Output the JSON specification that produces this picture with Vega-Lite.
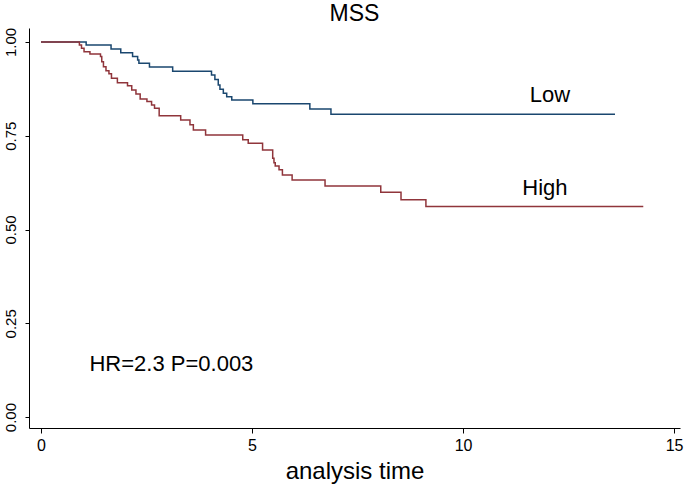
{
  "$schema": "https://vega.github.io/schema/vega-lite/v6.json",
  "autosize": {"type": "none"},
  "width": 651,
  "height": 400,
  "padding": {"left": 29, "top": 28, "right": 5, "bottom": 59},
  "background": "white",
  "config": {
    "font": "Liberation Sans",
    "view": {"stroke": null},
    "axis": {"grid": false, "domainColor": "black", "tickColor": "black", "labelColor": "black", "titleColor": "black", "domainWidth": 1, "tickWidth": 1, "labelFont": "Liberation Sans", "titleFont": "Liberation Sans", "titleFontWeight": "normal"}
  },
  "title": {"text": "MSS", "fontSize": 23, "fontWeight": "normal", "font": "Liberation Sans", "anchor": "middle", "offset": 1, "color": "black"},
  "datasets": {
    "km": [
      {"group": "Low", "t": 0, "s": 1.0},
      {"group": "Low", "t": 1.07, "s": 0.992},
      {"group": "Low", "t": 1.66, "s": 0.981},
      {"group": "Low", "t": 1.89, "s": 0.971},
      {"group": "Low", "t": 2.17, "s": 0.961},
      {"group": "Low", "t": 2.29, "s": 0.952},
      {"group": "Low", "t": 2.32, "s": 0.943},
      {"group": "Low", "t": 2.57, "s": 0.933},
      {"group": "Low", "t": 3.12, "s": 0.922},
      {"group": "Low", "t": 4.04, "s": 0.912},
      {"group": "Low", "t": 4.12, "s": 0.900},
      {"group": "Low", "t": 4.20, "s": 0.885},
      {"group": "Low", "t": 4.24, "s": 0.874},
      {"group": "Low", "t": 4.32, "s": 0.863},
      {"group": "Low", "t": 4.40, "s": 0.854},
      {"group": "Low", "t": 4.52, "s": 0.845},
      {"group": "Low", "t": 5.02, "s": 0.835},
      {"group": "Low", "t": 6.37, "s": 0.821},
      {"group": "Low", "t": 6.87, "s": 0.807},
      {"group": "Low", "t": 13.6, "s": 0.807},
      {"group": "High", "t": 0, "s": 1.0},
      {"group": "High", "t": 0.91, "s": 0.992},
      {"group": "High", "t": 0.96, "s": 0.983},
      {"group": "High", "t": 1.02, "s": 0.974},
      {"group": "High", "t": 1.16, "s": 0.968},
      {"group": "High", "t": 1.41, "s": 0.961},
      {"group": "High", "t": 1.44, "s": 0.947},
      {"group": "High", "t": 1.48, "s": 0.934},
      {"group": "High", "t": 1.54, "s": 0.923},
      {"group": "High", "t": 1.61, "s": 0.915},
      {"group": "High", "t": 1.67, "s": 0.903},
      {"group": "High", "t": 1.81, "s": 0.891},
      {"group": "High", "t": 2.05, "s": 0.883},
      {"group": "High", "t": 2.15, "s": 0.872},
      {"group": "High", "t": 2.25, "s": 0.861},
      {"group": "High", "t": 2.35, "s": 0.848},
      {"group": "High", "t": 2.51, "s": 0.841},
      {"group": "High", "t": 2.62, "s": 0.832},
      {"group": "High", "t": 2.69, "s": 0.823},
      {"group": "High", "t": 2.80, "s": 0.803},
      {"group": "High", "t": 3.31, "s": 0.792},
      {"group": "High", "t": 3.53, "s": 0.779},
      {"group": "High", "t": 3.61, "s": 0.765},
      {"group": "High", "t": 3.90, "s": 0.752},
      {"group": "High", "t": 4.78, "s": 0.739},
      {"group": "High", "t": 4.91, "s": 0.730},
      {"group": "High", "t": 5.25, "s": 0.712},
      {"group": "High", "t": 5.49, "s": 0.690},
      {"group": "High", "t": 5.52, "s": 0.678},
      {"group": "High", "t": 5.55, "s": 0.669},
      {"group": "High", "t": 5.64, "s": 0.659},
      {"group": "High", "t": 5.72, "s": 0.645},
      {"group": "High", "t": 5.95, "s": 0.632},
      {"group": "High", "t": 6.73, "s": 0.616},
      {"group": "High", "t": 8.05, "s": 0.599},
      {"group": "High", "t": 8.53, "s": 0.579},
      {"group": "High", "t": 9.12, "s": 0.561},
      {"group": "High", "t": 14.27, "s": 0.561}
    ],
    "labels": [
      {"label": "Low", "t": 12.06, "s": 0.859},
      {"label": "High", "t": 11.94, "s": 0.611},
      {"label": "HR=2.3 P=0.003", "t": 3.09, "s": 0.141}
    ]
  },
  "layer": [
    {
      "data": {"name": "km"},
      "mark": {"type": "line", "interpolate": "step-after", "strokeWidth": 1.5},
      "encoding": {
        "x": {
          "field": "t", "type": "quantitative",
          "scale": {"domain": [-0.284, 15.14], "nice": false, "zero": false},
          "axis": {"values": [0, 5, 10, 15], "format": "d", "tickSize": 5, "labelFontSize": 16, "labelPadding": 4, "title": "analysis time", "titleFontSize": 24, "titlePadding": 6, "labelFlush": false}
        },
        "y": {
          "field": "s", "type": "quantitative",
          "scale": {"domain": [-0.029, 1.037], "nice": false, "zero": false},
          "axis": {"values": [0, 0.25, 0.5, 0.75, 1], "format": ".2f", "tickSize": 4, "labelFontSize": 15, "labelAngle": -90, "labelAlign": "center", "labelBaseline": "bottom", "labelPadding": 7, "title": null}
        },
        "color": {
          "field": "group", "type": "nominal",
          "scale": {"domain": ["Low", "High"], "range": ["#1a476f", "#90353b"]},
          "legend": null
        }
      }
    },
    {
      "data": {"name": "labels"},
      "mark": {"type": "text", "fontSize": 22, "font": "Liberation Sans", "color": "black", "align": "center", "baseline": "middle"},
      "encoding": {
        "x": {"field": "t", "type": "quantitative"},
        "y": {"field": "s", "type": "quantitative"},
        "text": {"field": "label", "type": "nominal"}
      }
    }
  ]
}
